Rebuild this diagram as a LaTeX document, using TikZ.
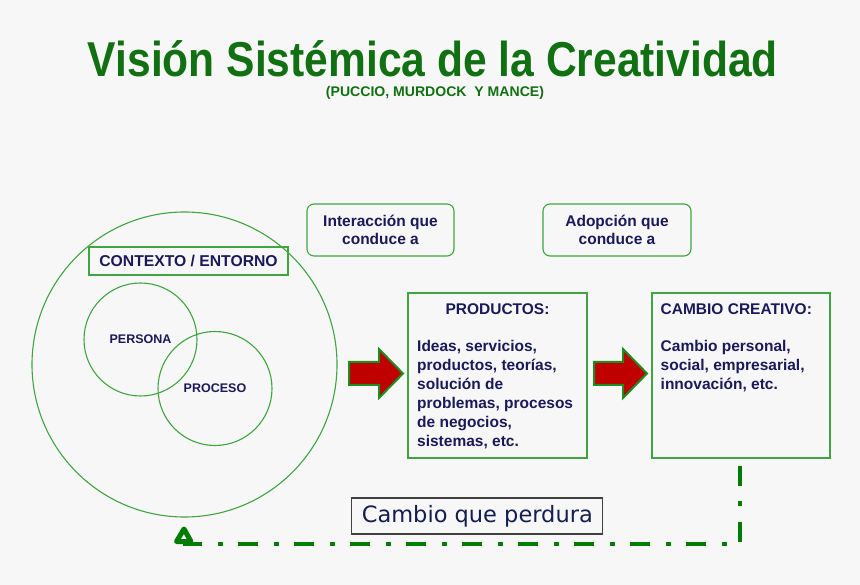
\documentclass[tikz,border=0pt]{standalone}
\usepackage{fontspec}
\setmainfont{Liberation Sans}
\newfontfamily\dvfont{DejaVu Sans}
\usetikzlibrary{calc}
\definecolor{bgc}{HTML}{F7F7F7}
\definecolor{lgreen}{RGB}{64,165,64}
\definecolor{navy}{RGB}{26,26,90}
\definecolor{tgreen}{RGB}{17,112,17}
\definecolor{dgreen}{RGB}{0,125,0}
\definecolor{arred}{RGB}{192,0,0}
\definecolor{argreen}{RGB}{30,140,30}
\definecolor{boxgray}{RGB}{64,64,64}
\definecolor{ctext}{RGB}{20,30,80}
\begin{document}
\begin{tikzpicture}[x=1pt,y=-1pt,
  ring/.style={circle, draw=lgreen, line width=1.1pt, inner sep=0pt},
  gbox/.style={draw=lgreen, line width=1.1pt, inner sep=0pt},
  rbox/.style={gbox, rounded corners=7pt, align=center, text=navy,
    font=\bfseries\fontsize{15.5}{18.5}\selectfont},
  bodytxt/.style={text=navy, font=\bfseries\fontsize{15.5}{19}\selectfont,
    inner sep=0pt, align=left},
  ringtxt/.style={text=navy, font=\bfseries\fontsize{12.5}{14}\selectfont},
  blockarrow/.style={fill=arred, draw=argreen, line width=2pt, line join=miter},
  dashret/.style={draw=dgreen, line width=4.5pt,
    dash pattern=on 20pt off 15pt on 5pt off 16pt},
  titletxt/.style={anchor=base, inner sep=0pt, text=tgreen}
]
\fill[bgc] (0,0) rectangle (860,585);
\useasboundingbox (0,0) rectangle (860,585);

% title
\node[titletxt] (title) at (433,77)
  {\resizebox{690pt}{\height}{\bfseries\fontsize{49}{55}\selectfont Visión Sistémica de la Creatividad}};
\node[titletxt] (subtitle) at (435,97)
  {\resizebox{218pt}{\height}{\bfseries\fontsize{14}{16}\selectfont (PUCCIO, MURDOCK\ \ Y MANCE)}};

% context circles
\node[ring, minimum size=305pt] (ctx) at (184.5,364.5) {};
\node[ring, minimum size=113pt, ringtxt] (per) at (140.5,339.5) {PERSONA};
\node[ring, minimum size=114pt, ringtxt] (pro) at (215,388.5) {PROCESO};
\node[gbox, minimum width=199pt, minimum height=28pt, text=navy,
  font=\bfseries\fontsize{15.7}{18}\selectfont] (ctxlabel) at (188.5,261) {CONTEXTO / ENTORNO};

% rounded label boxes
\node[rbox, minimum width=147pt, minimum height=52pt] (inter) at (380.5,230) {Interacción que\\conduce a};
\node[rbox, minimum width=148pt, minimum height=52pt] (adop) at (617,230) {Adopción que\\conduce a};

% product and change boxes
\node[gbox, minimum width=179pt, minimum height=165pt] (prod) at (497.5,375.5) {};
\node[gbox, minimum width=178pt, minimum height=165pt] (cam) at (741,375.5) {};
\node[bodytxt, anchor=base] (prodhead) at (497.5,314.5) {PRODUCTOS:};
\node[bodytxt, anchor=base west] (camhead) at (660.5,314.5) {CAMBIO CREATIVO:};
\node[bodytxt, anchor=north west] (prodbody) at (417,340)
  {Ideas, servicios,\\productos, teorías,\\solución de\\problemas, procesos\\de negocios,\\sistemas, etc.};
\node[bodytxt, anchor=north west] (cambody) at (660.5,340)
  {Cambio personal,\\social, empresarial,\\innovación, etc.};

% red block arrows
\draw[blockarrow] (349,362) -- (379,362) -- (379,349) -- (403,373.5) -- (379,398) -- (379,385) -- (349,385) -- cycle;
\draw[blockarrow] (594,362) -- (623,362) -- (623,349) -- (647,373.5) -- (623,398) -- (623,385) -- (594,385) -- cycle;

% lasting change
\node[draw=boxgray, line width=1.2pt, minimum width=251pt, minimum height=36pt, inner sep=0pt,
  text=ctext, font=\dvfont\fontsize{22.5}{26}\selectfont] (perd) at (477.3,516) {Cambio que perdura};

% return connector
\coordinate (ret) at (183,544);
\draw[dashret] ($(cam.south)+(-1,7)$) |- (ret);
\draw[draw=dgreen, line width=5pt, line join=round]
  ($(ret)+(-6.5,-2.5)$) -- ($(ret)+(1,-15)$) -- ($(ret)+(8,-2.5)$) -- cycle;
\end{tikzpicture}
\end{document}
